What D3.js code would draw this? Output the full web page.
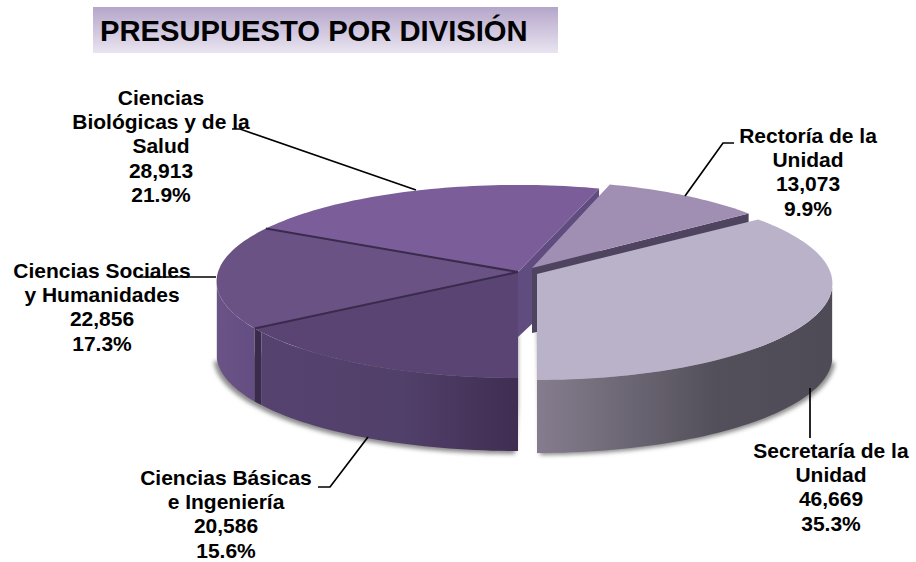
<!DOCTYPE html>
<html><head><meta charset="utf-8">
<script src="https://cdn.jsdelivr.net/npm/d3@7"></script>
<style>html,body{margin:0;padding:0;background:#fff}svg{display:block}text{font-family:"Liberation Sans",Arial,sans-serif;font-weight:bold;fill:#000}</style>
</head><body><svg id="c" width="916" height="562"></svg>
<script>
const titleText = "PRESUPUESTO POR DIVISIÓN";
const categories = ["Rectoría de la|Unidad","Secretaría de la|Unidad","Ciencias Básicas|e Ingeniería","Ciencias Sociales|y Humanidades","Ciencias|Biológicas y de la|Salud"];
const values = [13073,46669,20586,22856,28913];

// layout and style, per slice
const apexX = [532,537,518,518,518];
const apexY = [268,274,272,272,272];
const radiusX = [288,294,300,300,300];
const topColors = ["#a08fb3","#bab2c8","#5a4473","#6a5384","#7b5e99"];
const edgeColors = ["#4e4460","#4e4460","#3a2b4c","#3a2b4c","#614c7f"];
const labelX = [808,831,226,102,161];
const labelY = [143,458,485,278,105];
const leaders = [[[685,196],[723,143],[734,143]],[[810,388],[810,438]],[[318,487],[330,487],[368,437]],[[138,277],[216,277]],[[232,129],[240,129],[416,190]]];

const RY = 95.6, K = 0.098, DEPTH_IN = 65, DEPTH_OUT = 73, LINE = 24.2;
const svg = d3.select("#c");
const defs = svg.append("defs");
const grad = (id,x1,x2,stops,y)=>{const g=defs.append("linearGradient").attr("id",id).attr("gradientUnits","userSpaceOnUse")
  .attr("x1",y?0:x1).attr("x2",y?0:x2).attr("y1",y?x1:0).attr("y2",y?x2:0);
  stops.forEach(s=>g.append("stop").attr("offset",s[0]).attr("stop-color",s[1]));return `url(#${id})`;};
const fTitle = grad("gt",7,53,[[0,"#b5a6ca"],[1,"#e9e4f0"]],true);
const fSec = grad("gs",537,833,[[0,"#857d8e"],[.5,"#5c5863"],[.6,"#54505b"],[1,"#4f4b56"]]);
const fBas = grad("gb",260,518,[[0,"#56426f"],[.55,"#51406a"],[1,"#402d52"]]);
const fSoc = grad("gc",216,256,[[0,"#6a5386"],[1,"#644d80"]]);
defs.append("filter").attr("id","blur").attr("x","-10%").attr("y","-10%").attr("width","120%").attr("height","120%")
  .append("feGaussianBlur").attr("stdDeviation",2.2);

svg.append("rect").attr("x",93).attr("y",7).attr("width",465).attr("height",46).attr("fill",fTitle);
svg.append("text").attr("x",100).attr("y",41).attr("font-size",29.2).text(titleText);

const TAU = 2*Math.PI, deg = d=>d*Math.PI/180;
const total = d3.sum(values);
// Secretaría closes exactly at the bottom of the pie
const start = Math.PI - (values[0]+values[1])/total*TAU;
const arcs = d3.pie().sort(null).startAngle(start).endAngle(start+TAU)(values);

function P(i,a,r,dz){
  const u=Math.sin(a)*r, v=-Math.cos(a)*r, s=1/(1-K*v);
  return [apexX[i]+radiusX[i]*u*s, apexY[i]+RY*v*s+(dz||0)];
}
const line = d3.line();
const samples=(a,b)=>{const n=Math.max(2,Math.ceil(Math.abs(b-a)/deg(1.5)));return d3.range(n+1).map(k=>a+(b-a)*k/n);};
const wedge=(i,a,b)=>line([[apexX[i],apexY[i]],...samples(a,b).map(t=>P(i,t,1))])+"Z";
const rim=(i,a,b)=>{const A=samples(a,b);return line([...A.map(t=>P(i,t,1)),...A.slice().reverse().map(t=>P(i,t,1,DEPTH_OUT))])+"Z";};
const radial=(i,a)=>line([[apexX[i],apexY[i]],P(i,a,1),P(i,a,1,DEPTH_OUT),[apexX[i],apexY[i]+DEPTH_IN]])+"Z";

const [rec,sec,bas,soc,bio]=arcs;
const g=svg.append("g");
// soft shadows below the walls
const sh=g.append("g").attr("filter","url(#blur)").attr("fill","#8c8c8c");
sh.append("path").attr("d",line([[apexX[2],apexY[2]+DEPTH_OUT+60],...samples(bas.startAngle,deg(262)).map(t=>{const p=P(2,t,1,DEPTH_OUT);return [p[0]-3,p[1]+3];}),[apexX[2],apexY[2]+40]])+"Z");
sh.append("path").attr("d",line([[apexX[1],apexY[1]+40],...samples(deg(98),sec.endAngle).map(t=>{const p=P(1,t,1,DEPTH_OUT);return [p[0]+3,p[1]+2];})])+"Z");

// main body
g.append("path").attr("d",radial(4,bio.endAngle)).attr("fill",edgeColors[4]);
g.append("path").attr("d",wedge(4,bio.startAngle,bio.endAngle)).attr("fill",topColors[4]);
g.append("path").attr("d",rim(3,soc.startAngle,deg(262))).attr("fill",fSoc);
g.append("path").attr("d",rim(2,bas.endAngle-deg(2.4),soc.startAngle)).attr("fill",edgeColors[2]);
g.append("path").attr("d",rim(2,bas.startAngle,bas.endAngle-deg(2.4))).attr("fill",fBas);
g.append("path").attr("d",wedge(3,soc.startAngle,soc.endAngle)).attr("fill",topColors[3]);
g.append("path").attr("d",wedge(2,bas.startAngle,bas.endAngle)).attr("fill",topColors[2]);
[soc.startAngle,soc.endAngle].forEach(a=>g.append("path").attr("d",line([[apexX[3],apexY[3]],P(3,a,1)])).attr("stroke",edgeColors[3]).attr("stroke-width",2).attr("fill","none"));

// Rectoría
g.append("path").attr("d",radial(0,rec.endAngle)).attr("fill",edgeColors[0]);
g.append("path").attr("d",wedge(0,rec.startAngle,rec.endAngle)).attr("fill",topColors[0]);
// Secretaría
g.append("path").attr("d",rim(1,deg(98),sec.endAngle)).attr("fill",fSec);
g.append("path").attr("d",wedge(1,sec.startAngle,sec.endAngle)).attr("fill",topColors[1]);

// leaders
leaders.forEach(l=>svg.append("path").attr("d",line(l)).attr("fill","none").attr("stroke","#000").attr("stroke-width",1.7));

// labels
const fmt=d3.format(","), pct=d3.format(".1%");
categories.forEach((c,i)=>{
  const lines=[...c.split("|"),fmt(values[i]),pct(values[i]/total)];
  const t=svg.append("text").attr("text-anchor","middle").attr("font-size",21);
  lines.forEach((s,k)=>t.append("tspan").attr("x",labelX[i]).attr("y",labelY[i]+k*LINE).text(s));
});
</script></body></html>
